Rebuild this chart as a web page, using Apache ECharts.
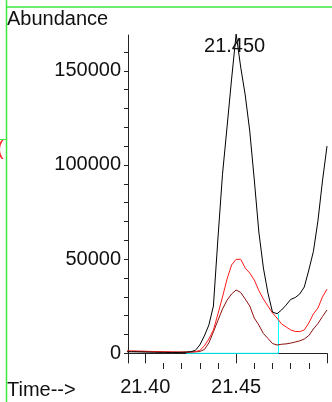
<!DOCTYPE html>
<html><head><meta charset="utf-8">
<script src="https://cdn.jsdelivr.net/npm/echarts@6/dist/echarts.min.js"></script>
<style>html,body{margin:0;padding:0;background:#fff}#c{width:332px;height:402px}</style>
</head><body><div id="c"></div>
<script>
const times = [21.3900,21.3925,21.3950,21.3975,21.4000,21.4025,21.4050,21.4075,21.4100,21.4125,21.4150,21.4175,21.4200,21.4225,21.4250,21.4275,
  21.4300,21.4325,21.4350,21.4375,21.4400,21.4425,21.4450,21.4475,21.4500,21.4525,21.4550,21.4575,21.4600,21.4625,21.4650,21.4675,
  21.4700,21.4725,21.4750,21.4775,21.4800,21.4825,21.4850,21.4875,21.4900,21.4925,21.4950,21.4975,21.5000];
const ticValues = [800,800,750,700,650,600,550,500,500,450,450,450,500,600,900,1500,
  4400,9200,15000,25100,61200,95100,120100,145600,169500,152000,137100,118000,92000,64400,45300,32000,
  21900,21000,23000,25600,28600,29600,31500,35200,44200,54000,70200,91500,110000];
const ionA = [1300,1250,1200,1150,1100,1000,950,900,850,800,750,700,700,700,750,900,
  1500,3900,7600,12400,20900,29900,39400,46900,49900,49900,45300,42600,38900,33300,28800,25100,
  21400,18700,15600,14000,12400,11600,11500,12400,16100,20900,24000,29900,34100];
const ionB = [1100,1050,1000,950,900,850,800,750,700,650,600,600,550,550,600,750,
  950,2000,5500,11400,17500,23500,28200,31500,33600,32300,28800,25100,18700,15000,10500,7900,
  5200,4400,4800,5000,5400,6000,6600,7600,9400,12900,15800,19500,23000];
const baselineTimes = [21.4225, 21.4733, 21.4733];
const baselineValues = [0, 0, 21000];
const yLabelValues = [0, 50000, 100000, 150000];
const yTickValues = [0,10000,20000,30000,40000,50000,60000,70000,80000,90000,100000,110000,120000,130000,140000,150000,160000];
const xLabelValues = [21.40, 21.45];
const xMajorTicks = [21.40, 21.45, 21.50];
const xMinorTicks = [21.41, 21.42, 21.43, 21.44, 21.46, 21.47, 21.48, 21.49];
const peakTime = 21.450, peakLabelValue = 168000, peakLabel = '21.450';

const FONT = 'Liberation Sans, Arial, sans-serif';
const pair = (xs, ys) => xs.map((x, i) => [x, ys[i]]);
const chart = echarts.init(document.getElementById('c'), null, {renderer: 'canvas'});
chart.setOption({
  animation: false,
  backgroundColor: '#fff',
  grid: {left: 128, top: 35, right: 5, bottom: 39},
  xAxis: [{
    type: 'value', min: 21.3905, max: 21.50,
    axisLine: {show: true, lineStyle: {color: '#222', width: 1}},
    axisTick: {show: true, length: 10, customValues: xMajorTicks, lineStyle: {color: '#222'}},
    axisLabel: {customValues: xLabelValues, formatter: v => v.toFixed(2), fontSize: 20, fontFamily: FONT, color: '#111', margin: 14},
    splitLine: {show: false}
  }, {
    type: 'value', min: 21.3905, max: 21.50, position: 'bottom',
    axisLine: {show: false},
    axisTick: {show: true, length: 6, customValues: xMinorTicks, lineStyle: {color: '#222'}},
    axisLabel: {show: false},
    splitLine: {show: false}
  }],
  yAxis: {
    type: 'value', min: -5150, max: 169000,
    axisLine: {show: true, lineStyle: {color: '#222', width: 1}},
    axisTick: {show: true, length: 4, customValues: yTickValues, lineStyle: {color: '#222'}},
    axisLabel: {customValues: yLabelValues, formatter: v => String(v), fontSize: 20, fontFamily: FONT, color: '#111', margin: 7},
    splitLine: {show: false}
  },
  series: [
    {type: 'line', data: pair(baselineTimes, baselineValues), symbol: 'none', z: 1, clip: true,
     lineStyle: {color: '#00ffff', width: 1}},
    {type: 'line', data: pair(times, ionB), symbol: 'none', z: 2, clip: true,
     lineStyle: {color: '#8b1010', width: 1}},
    {type: 'line', data: pair(times, ionA), symbol: 'none', z: 3, clip: true,
     lineStyle: {color: '#ff1a1a', width: 1}},
    {type: 'line', data: pair(times, ticValues), symbol: 'none', z: 4, clip: false,
     lineStyle: {color: '#000', width: 1},
     markPoint: {symbol: 'circle', symbolSize: 2, silent: true,
       itemStyle: {color: 'rgba(0,0,0,0)'},
       data: [{coord: [peakTime, peakLabelValue], value: peakLabel}],
       label: {show: true, position: 'inside', offset: [-1.5, 10], formatter: peakLabel,
         fontSize: 20, fontFamily: FONT, color: '#111'}}}
  ],
  graphic: [
    {type: 'text', left: 7, top: 9, style: {text: 'Abundance', fontSize: 20, fontFamily: FONT, fill: '#111'}},
    {type: 'text', left: 7, top: 380, style: {text: 'Time-->', fontSize: 20, fontFamily: FONT, fill: '#111'}},
    {type: 'line', shape: {x1: 6.5, y1: 0, x2: 6.5, y2: 402}, style: {stroke: '#3ee83e', lineWidth: 1.5}},
    {type: 'line', shape: {x1: 6.5, y1: 7, x2: 332, y2: 7}, style: {stroke: '#3ee83e', lineWidth: 1.5}},
    {type: 'line', shape: {x1: 0, y1: 139.5, x2: 6.5, y2: 139.5}, style: {stroke: '#3ee83e', lineWidth: 1}},
    {type: 'text', left: -3, top: 139, style: {text: '(', fontSize: 20, fontFamily: FONT, fill: '#ff2020'}}
  ]
});
</script>
</body></html>
